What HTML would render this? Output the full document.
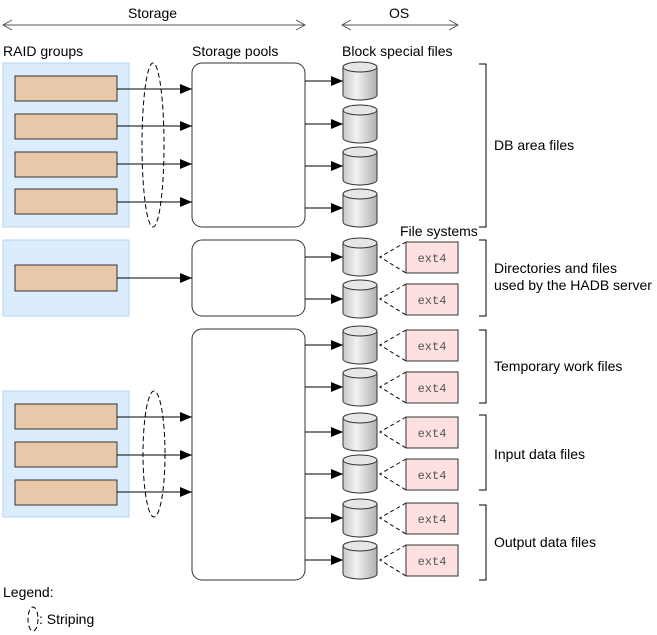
<!DOCTYPE html>
<html><head><meta charset="utf-8"><style>
body{margin:0;background:#fff}
svg{display:block;font-family:"Liberation Sans",sans-serif;font-size:14px}
.m{font-family:"Liberation Mono",monospace;font-size:12px;fill:#555}
</style></head><body>
<svg width="657" height="635" viewBox="0 0 657 635" xmlns="http://www.w3.org/2000/svg">
<defs>
<marker id="a" markerWidth="12" markerHeight="10" refX="12" refY="5" orient="auto" markerUnits="userSpaceOnUse"><path d="M0,0 L12,5 L0,10 z" fill="#000"/></marker>
<linearGradient id="g" x1="0" x2="1"><stop offset="0" stop-color="#c8c8c8"/><stop offset="0.4" stop-color="#f2f2f2"/><stop offset="1" stop-color="#b0b0b0"/></linearGradient>
<g id="cyl"><path d="M0,5 V33 A17,5 0 0 0 34,33 V5" fill="url(#g)" stroke="#333"/><ellipse cx="17" cy="5" rx="17" ry="5" fill="#e6e6e6" stroke="#333"/></g>
</defs>
<g stroke="#555" fill="none">
<path d="M3,25 H305 M12,20 L3,25 L12,30 M296,20 L305,25 L296,30"/>
<path d="M342,25 H458 M351,20 L342,25 L351,30 M449,20 L458,25 L449,30"/>
</g>
<text x="128" y="18">Storage</text>
<text x="389" y="18">OS</text>
<text x="3" y="56">RAID groups</text>
<text x="192" y="56">Storage pools</text>
<text x="342" y="56">Block special files</text>
<text x="400" y="236">File systems</text>
<g fill="#dbecfd" stroke="#b5d6f4">
<rect x="3" y="63" width="126" height="164"/><rect x="3" y="240" width="126" height="76"/><rect x="3" y="391" width="126" height="126"/>
</g>
<g fill="#e8c8a8" stroke="#333">
<rect x="15" y="76" width="102" height="25"/><rect x="15" y="114" width="102" height="25"/><rect x="15" y="152" width="102" height="25"/><rect x="15" y="189" width="102" height="25"/>
<rect x="15" y="265" width="102" height="26"/>
<rect x="15" y="404" width="102" height="25"/><rect x="15" y="442" width="102" height="25"/><rect x="15" y="480" width="102" height="25"/>
</g>
<g fill="#fff" stroke="#333">
<rect x="192" y="63" width="113" height="164" rx="10"/><rect x="192" y="240" width="113" height="76" rx="10"/><rect x="192" y="329" width="113" height="251" rx="10"/>
</g>
<g stroke="#000" marker-end="url(#a)">
<line x1="117" y1="89" x2="192" y2="89"/><line x1="117" y1="126" x2="192" y2="126"/><line x1="117" y1="164" x2="192" y2="164"/><line x1="117" y1="202" x2="192" y2="202"/>
<line x1="117" y1="278" x2="192" y2="278"/><line x1="117" y1="417" x2="192" y2="417"/><line x1="117" y1="455" x2="192" y2="455"/><line x1="117" y1="492" x2="192" y2="492"/>
<line x1="305" y1="81" x2="343" y2="81"/><line x1="305" y1="124" x2="343" y2="124"/><line x1="305" y1="166" x2="343" y2="166"/><line x1="305" y1="208" x2="343" y2="208"/>
<line x1="305" y1="257" x2="343" y2="257"/><line x1="305" y1="299" x2="343" y2="299"/><line x1="305" y1="345" x2="343" y2="345"/><line x1="305" y1="387" x2="343" y2="387"/>
<line x1="305" y1="432" x2="343" y2="432"/><line x1="305" y1="474" x2="343" y2="474"/><line x1="305" y1="518" x2="343" y2="518"/><line x1="305" y1="560" x2="343" y2="560"/>
</g>
<g fill="none" stroke="#000" stroke-dasharray="5,3">
<ellipse cx="153" cy="145" rx="11" ry="82"/><ellipse cx="154" cy="454" rx="11" ry="63"/><ellipse cx="33" cy="619" rx="5" ry="12"/>
</g>
<use href="#cyl" x="343" y="62"/><use href="#cyl" x="343" y="105"/><use href="#cyl" x="343" y="147"/><use href="#cyl" x="343" y="189"/>
<use href="#cyl" x="343" y="238"/><use href="#cyl" x="343" y="280"/><use href="#cyl" x="343" y="326"/><use href="#cyl" x="343" y="368"/>
<use href="#cyl" x="343" y="413"/><use href="#cyl" x="343" y="455"/><use href="#cyl" x="343" y="499"/><use href="#cyl" x="343" y="541"/>
<g fill="none" stroke="#000" stroke-dasharray="4,3">
<path d="M406,242 L380,257 L406,273 M406,284 L380,299 L406,315 M406,330 L380,345 L406,361 M406,372 L380,387 L406,403 M406,417 L380,432 L406,448 M406,459 L380,474 L406,490 M406,503 L380,518 L406,534 M406,545 L380,560 L406,576"/>
</g>
<g fill="#fde0e0" stroke="#333">
<rect x="406" y="242" width="52" height="31"/><rect x="406" y="284" width="52" height="31"/><rect x="406" y="330" width="52" height="31"/><rect x="406" y="372" width="52" height="31"/>
<rect x="406" y="417" width="52" height="31"/><rect x="406" y="459" width="52" height="31"/><rect x="406" y="503" width="52" height="31"/><rect x="406" y="545" width="52" height="31"/>
</g>
<g class="m" text-anchor="middle">
<text x="432" y="262">ext4</text><text x="432" y="304">ext4</text><text x="432" y="350">ext4</text><text x="432" y="392">ext4</text>
<text x="432" y="437">ext4</text><text x="432" y="479">ext4</text><text x="432" y="523">ext4</text><text x="432" y="565">ext4</text>
</g>
<g fill="none" stroke="#000">
<path d="M479,64 H486 V227 H479 M479,240 H486 V316 H479 M479,330 H486 V403 H479 M479,415 H486 V490 H479 M479,505 H486 V580 H479"/>
</g>
<text x="494" y="150">DB area files</text>
<text x="494" y="273">Directories and files</text>
<text x="494" y="290">used by the HADB server</text>
<text x="494" y="371">Temporary work files</text>
<text x="494" y="459">Input data files</text>
<text x="494" y="547">Output data files</text>
<text x="3" y="597">Legend:</text>
<text x="39" y="624">: Striping</text>
</svg>
</body></html>
